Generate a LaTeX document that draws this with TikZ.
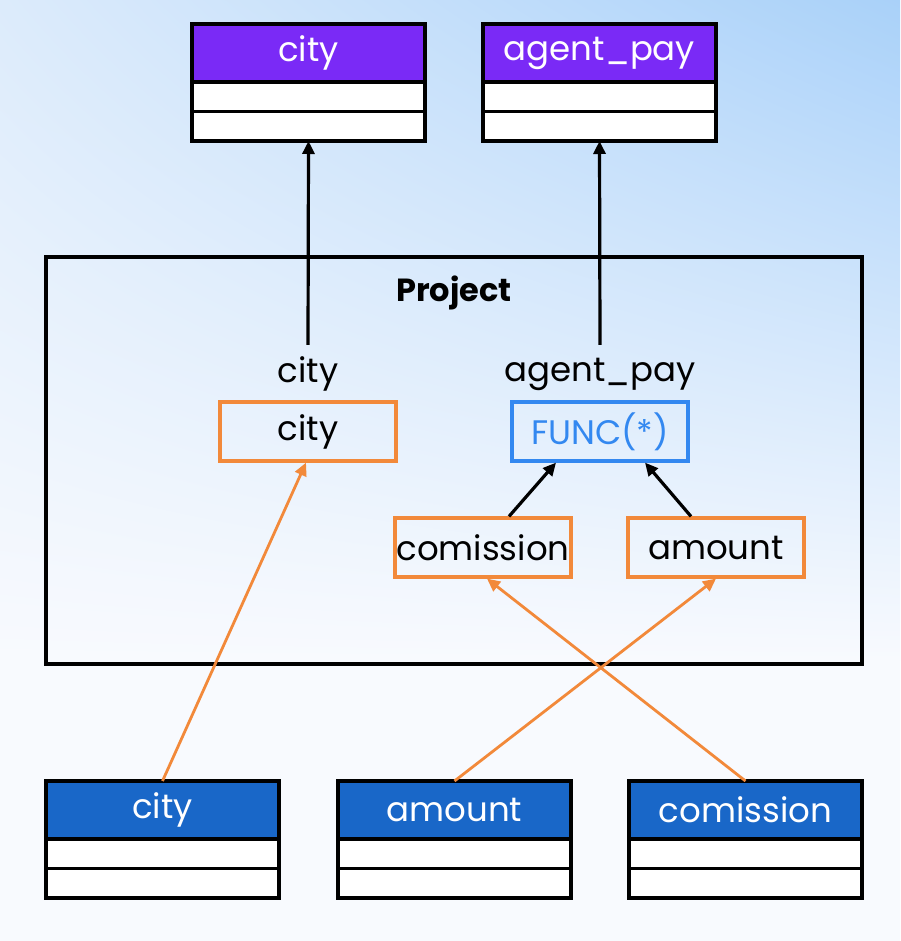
\documentclass[tikz,border=0pt]{standalone}
\usepackage{fontspec}
\setmainfont{Poppins}
\usetikzlibrary{arrows.meta,calc,shadings}
\definecolor{hdrpurple}{HTML}{7A2AF6}
\definecolor{hdrblue}{HTML}{1967C8}
\definecolor{orng}{HTML}{F2893A}
\definecolor{funcblue}{HTML}{3388F0}
\definecolor{bgtl}{HTML}{DCEBFB}
\definecolor{bgtr}{HTML}{A9D1F9}
\definecolor{bgbot}{HTML}{F8FAFE}
\tikzset{
  txt/.style={font=\fontsize{34}{38}\selectfont},
  hdr/.style={txt,draw=black,line width=3.5pt,minimum width=233pt,minimum height=58pt,inner sep=0pt,outer sep=0pt,text=white},
  row/.style={draw=black,line width=3.5pt,fill=white,minimum width=233pt,minimum height=29.5pt,inner sep=0pt,outer sep=0pt},
  obox/.style={txt,draw=orng,line width=3.2pt,minimum width=176pt,minimum height=59pt,inner sep=0pt},
  fbox/.style={txt,draw=funcblue,line width=3.2pt,minimum width=176pt,minimum height=59pt,inner sep=0pt,text=funcblue},
  lbl/.style={txt,minimum height=58pt,inner sep=0pt},
  blk/.style={line width=3.2pt,-{Triangle[length=13pt,width=12pt]}},
  oarr/.style={draw=orng,line width=2.8pt,-{Triangle[length=13pt,width=12pt]}},
}
\begin{document}
\begin{tikzpicture}[x=1pt,y=-1pt]
\useasboundingbox (0,0) rectangle (900,941);
\fill[bgbot] (0,0) rectangle (900,941);
\shade[upper left=bgtl,upper right=bgtr,lower left=bgbot,lower right=bgbot] (0,0) rectangle (900,660);
% project box
\node[draw=black,line width=3.2pt,minimum width=816pt,minimum height=407pt,inner sep=0pt] (proj) at (454,460.5) {};
\node[font=\bfseries\fontsize{32}{36}\selectfont] (projlbl) at (454,293) {Project};
% top tables
\node[hdr,fill=hdrpurple] (tcity) at (308.5,53) {city};
\node[row,anchor=north] (tcityr1) at (tcity.south) {};
\node[row,anchor=north] (tcityr2) at (tcityr1.south) {};
\node[hdr,fill=hdrpurple] (tpay) at (599.5,53) {agent\_pay};
\node[row,anchor=north] (tpayr1) at (tpay.south) {};
\node[row,anchor=north] (tpayr2) at (tpayr1.south) {};
% bottom tables
\node[hdr,fill=hdrblue] (bcity) at (162.5,810) {city};
\node[row,anchor=north] (bcityr1) at (bcity.south) {};
\node[row,anchor=north] (bcityr2) at (bcityr1.south) {};
\node[hdr,fill=hdrblue] (bamount) at (454.5,810) {amount};
\node[row,anchor=north] (bamountr1) at (bamount.south) {};
\node[row,anchor=north] (bamountr2) at (bamountr1.south) {};
\node[hdr,fill=hdrblue] (bcom) at (745.5,810) {comission};
\node[row,anchor=north] (bcomr1) at (bcom.south) {};
\node[row,anchor=north] (bcomr2) at (bcomr1.south) {};
% inner labels and boxes
\node[lbl] (lcity) at (308,374) {city};
\node[lbl] (lpay) at (600,374) {agent\_pay};
\node[obox] (ocity) at (308,431.5) {city};
\node[fbox] (func) at (600,431.5) {FUNC(*)};
\node[obox] (ocom) at (483,547.5) {comission};
\node[obox] (oamount) at (716,547.5) {amount};
% connectors
\draw[blk] (lcity.north) -- (tcityr2.south);
\draw[blk] (lpay.north) -- (tpayr2.south);
\draw[blk] ($(ocom.north)+(26,0)$) -- ($(func.south)+(-44,0)$);
\draw[blk] ($(oamount.north)+(-25,0)$) -- ($(func.south)+(45,0)$);
\draw[oarr] (bcity.north) -- ($(ocity.south)+(-2,0)$);
\draw[oarr] (bamount.north) -- (oamount.south);
\draw[oarr] (bcom.north) -- ($(ocom.south)+(4,0)$);
\end{tikzpicture}
\end{document}
